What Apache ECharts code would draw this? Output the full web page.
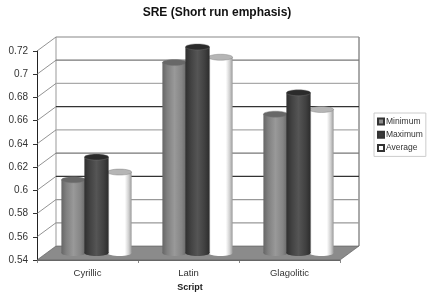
<!DOCTYPE html>
<html><head><meta charset="utf-8">
<style>html,body{margin:0;padding:0;background:#fff}#c{width:436px;height:293px}</style>
<script src="https://cdn.jsdelivr.net/npm/echarts@6/dist/echarts.min.js"></script>
</head><body><div id="c"></div>
<script>
const categories = ['Cyrillic', 'Latin', 'Glagolitic'];
const minimum = [0.603, 0.704, 0.6596];
const maximum = [0.6226, 0.7175, 0.678];
const average = [0.6097, 0.7086, 0.6636];
const ticks = [0.54, 0.56, 0.58, 0.6, 0.62, 0.64, 0.66, 0.68, 0.7, 0.72];
const tickColors = ['#555', '#999', '#999', '#333', '#777', '#aaa', '#333', '#aaa', '#777', '#888'];
const FONT = '"Liberation Sans", Arial, sans-serif';
const DEPTH = [19, -14];
const BAR_W = 23, RY = 3;

const chart = echarts.init(document.getElementById('c'), null, {renderer: 'canvas'});

function stops(list) {
  return new echarts.graphic.LinearGradient(0, 0, 1, 0,
    list.map(s => ({offset: s[0], color: s[1]})));
}
const styles = [
  {body: [[0, '#666'], [0.2, '#808080'], [0.5, '#999'], [0.8, '#858585'], [1, '#666']], top: '#686868', swatch: '#8c8c8c'},
  {body: [[0, '#2f2f2f'], [0.25, '#444'], [0.5, '#555'], [0.8, '#404040'], [1, '#2c2c2c']], top: '#2b2b2b', swatch: '#3a3a3a'},
  {body: [[0, '#d8d8d8'], [0.12, '#fff'], [0.72, '#fff'], [0.88, '#d0d0d0'], [1, '#999']], top: '#b5b5b5', swatch: '#ffffff'}
];

function cylinder(idx) {
  return function (params, api) {
    const base = api.coord([api.value(0), ticks[0]]);
    const top = api.coord([api.value(0), api.value(1)]);
    const cx = base[0] + DEPTH[0] / 2 + (idx - 1) * BAR_W - 0.5;
    const y0 = base[1] + DEPTH[1] / 2;
    const y1 = top[1] + DEPTH[1] / 2;
    const st = styles[idx];
    const rx = BAR_W / 2 + 0.6;
    return {type: 'group', children: [
      {type: 'rect', shape: {x: cx - rx, y: y1, width: rx * 2, height: y0 - y1},
        style: {fill: stops(st.body)}},
      {type: 'ellipse', shape: {cx, cy: y0, rx, ry: RY}, style: {fill: stops(st.body)}},
      {type: 'ellipse', shape: {cx, cy: y1, rx, ry: RY}, style: {fill: st.top, stroke: '#777', lineWidth: 0.4}}
    ]};
  };
}

function walls(params, api) {
  const i = params.dataIndex;
  const v = api.value(0);
  const band = api.size([1, 0])[0];
  const c0 = api.coord([0, v]);
  const c1 = api.coord([categories.length - 1, v]);
  const a = [c0[0] - band / 2, c0[1]];
  const b = [c1[0] + band / 2, c1[1]];
  const back = [a[0] + DEPTH[0], a[1] + DEPTH[1]];
  const backR = [b[0] + DEPTH[0], b[1] + DEPTH[1]];
  const col = tickColors[i];
  const kids = [];
  if (i === 0) {
    const topY = api.coord([0, ticks[ticks.length - 1]])[1] + DEPTH[1];
    kids.push({type: 'polygon', shape: {points: [a, back, backR, b]}, style: {fill: '#8b8b8b', stroke: '#555', lineWidth: 0.6}});
    kids.push({type: 'line', shape: {x1: back[0], y1: topY, x2: back[0], y2: back[1]}, style: {stroke: '#999', lineWidth: 1}});
    kids.push({type: 'line', shape: {x1: backR[0], y1: topY, x2: backR[0], y2: backR[1]}, style: {stroke: '#555', lineWidth: 1}});
    kids.push({type: 'line', shape: {x1: a[0], y1: a[1] + 0.5, x2: b[0], y2: b[1] + 0.5}, style: {stroke: '#666', lineWidth: 1}});
  } else {
    kids.push({type: 'line', shape: {x1: a[0], y1: a[1], x2: back[0], y2: back[1]}, style: {stroke: '#777', lineWidth: 0.8}});
    kids.push({type: 'line', shape: {x1: back[0], y1: back[1], x2: backR[0], y2: backR[1]}, style: {stroke: col, lineWidth: 1.2}});
  }
  return {type: 'group', children: kids};
}

function barSeries(name, values, idx, z) {
  return {
    name, type: 'custom', z,
    clip: false,
    coordinateSystem: 'cartesian2d',
    itemStyle: {color: styles[idx].swatch, borderColor: '#333', borderWidth: 1},
    renderItem: cylinder(idx),
    encode: {x: 0, y: 1},
    data: values.map((v, i) => [i, v])
  };
}

chart.setOption({
  animation: false,
  backgroundColor: '#fff',
  textStyle: {fontFamily: FONT},
  title: {
    text: 'SRE (Short run emphasis)', left: 212, top: 2, textAlign: 'center',
    textStyle: {fontFamily: FONT, fontSize: 12, fontWeight: 'bold', color: '#111'}
  },
  legend: {
    left: 374, top: 113, orient: 'vertical', padding: [4, 3, 4, 3],
    width: 53, itemGap: 4.2, itemWidth: 6, itemHeight: 6,
    data: [
      {name: 'Minimum', icon: 'rect'},
      {name: 'Maximum', icon: 'rect'},
      {name: 'Average', icon: 'rect'}
    ],
    backgroundColor: '#fff', borderColor: '#ccc', borderWidth: 1,
    textStyle: {fontFamily: FONT, fontSize: 8.5, color: '#333', padding: [0, 0, 0, -3]}
  },
  grid: {left: 37, top: 51, width: 303, height: 209, outerBoundsMode: 'none'},
  xAxis: {
    type: 'category', data: categories,
    name: 'Script', nameLocation: 'middle', nameGap: 22,
    nameTextStyle: {fontFamily: FONT, fontSize: 9, fontWeight: 'bold', color: '#222', padding: [0, 0, 0, 3]},
    axisLine: {show: false},
    axisTick: {show: true, alignWithLabel: false, length: 3, lineStyle: {color: '#888'}},
    axisLabel: {fontFamily: FONT, fontSize: 9.5, color: '#333', margin: 8},
    splitLine: {show: false}
  },
  yAxis: {
    type: 'value', min: 0.54, max: 0.72, interval: 0.02,
    axisLine: {show: true, onZero: false, lineStyle: {color: '#222', width: 1}},
    axisTick: {show: true, length: 4, lineStyle: {color: '#333'}},
    axisLabel: {fontFamily: FONT, fontSize: 10, color: '#333', margin: 9,
      formatter: v => String(+v.toFixed(2))},
    splitLine: {show: false}
  },
  series: [
    {type: 'custom', name: 'walls', z: 1, clip: false, renderItem: walls, silent: true,
     encode: {y: 0}, data: ticks.map(t => [t])},
    barSeries('Minimum', minimum, 0, 3),
    barSeries('Average', average, 2, 4),
    barSeries('Maximum', maximum, 1, 5)
  ]
});
</script>
</body></html>
